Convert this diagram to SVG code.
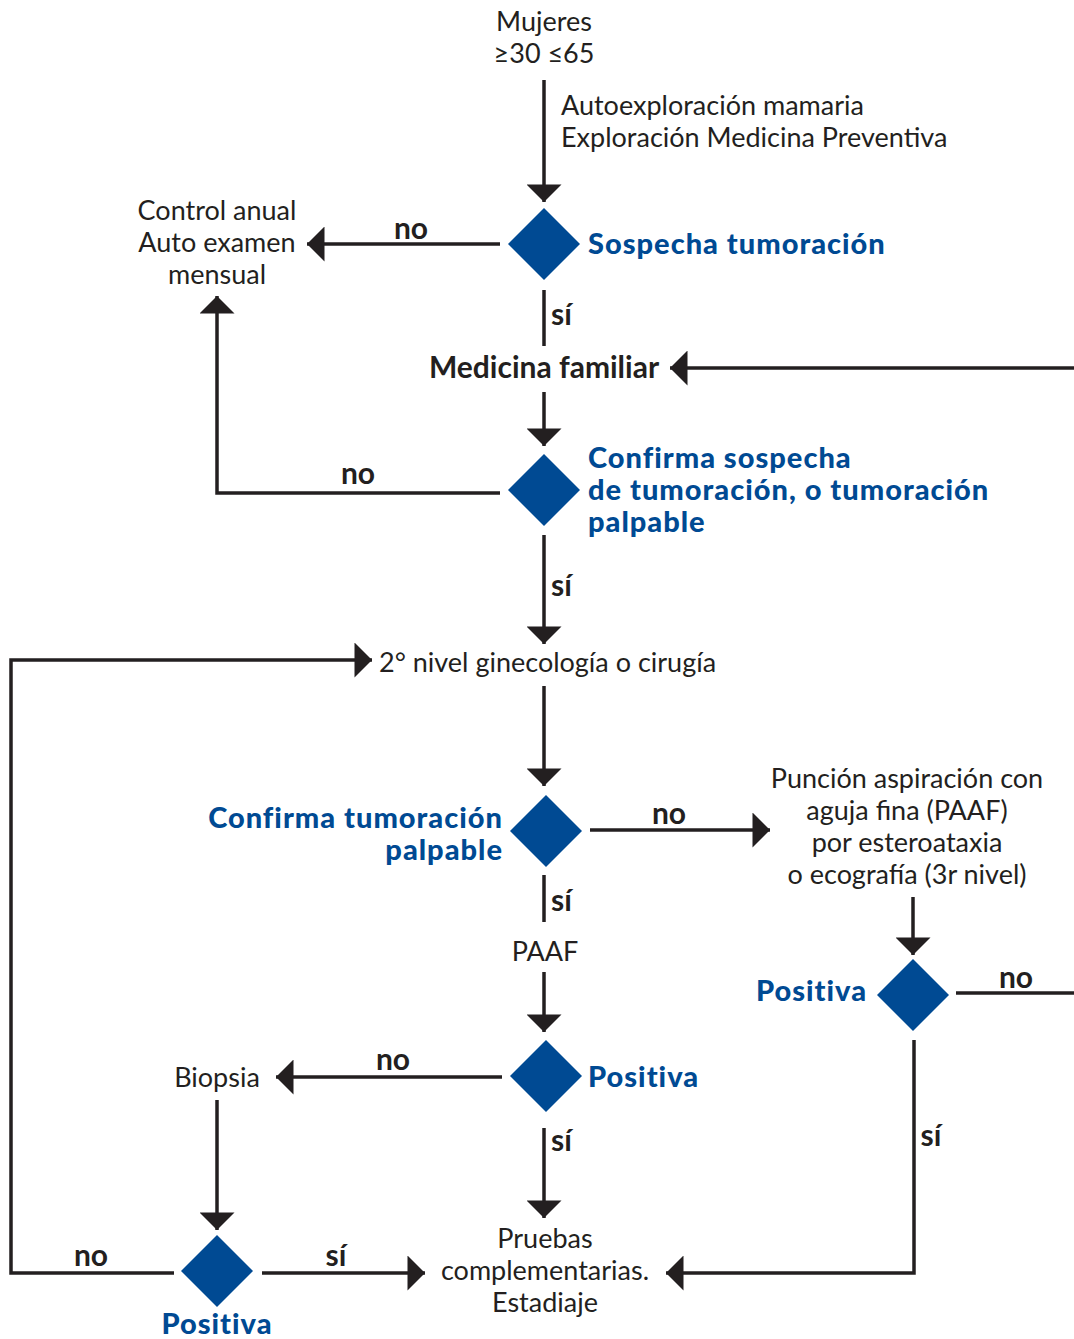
<svg xmlns="http://www.w3.org/2000/svg" width="1074" height="1339" viewBox="0 0 1074 1339">
<style>
.t{font-family:"Lato","Open Sans","Liberation Sans",sans-serif;font-size:27px;fill:#231f20}
.b{font-family:"Lato","Open Sans","Liberation Sans",sans-serif;font-size:30px;font-weight:bold;fill:#231f20}
.q{font-family:"Lato","Open Sans","Liberation Sans",sans-serif;font-size:29px;font-weight:900;letter-spacing:1px;fill:#004a93}
.c{text-anchor:middle}
.e{text-anchor:end}
.d{fill:#004a93}
.l{fill:none;stroke:#231f20;stroke-width:3.5}
</style>
<defs>
<marker id="ah" viewBox="0 0 10 20" refX="10" refY="10" markerWidth="5.2" markerHeight="10" markerUnits="strokeWidth" orient="auto">
<path d="M0,0 L10,10 L0,20 Z" fill="#231f20"/>
</marker>
</defs>
<g id="connectors">
<line class="l" x1="544" y1="80" x2="544" y2="202" marker-end="url(#ah)"/>
<line class="l" x1="500" y1="244" x2="307" y2="244" marker-end="url(#ah)"/>
<line class="l" x1="544" y1="290" x2="544" y2="346"/>
<line class="l" x1="1074" y1="368" x2="670" y2="368" marker-end="url(#ah)"/>
<line class="l" x1="544" y1="392" x2="544" y2="446" marker-end="url(#ah)"/>
<polyline class="l" points="500,493 217,493 217,296" marker-end="url(#ah)"/>
<line class="l" x1="544" y1="535" x2="544" y2="644" marker-end="url(#ah)"/>
<polyline class="l" points="174,1273 11,1273 11,660 372,660" marker-end="url(#ah)"/>
<line class="l" x1="544" y1="686" x2="544" y2="786" marker-end="url(#ah)"/>
<line class="l" x1="590" y1="830" x2="770" y2="830" marker-end="url(#ah)"/>
<line class="l" x1="544" y1="875" x2="544" y2="922"/>
<line class="l" x1="544" y1="972" x2="544" y2="1032" marker-end="url(#ah)"/>
<line class="l" x1="502" y1="1077" x2="276" y2="1077" marker-end="url(#ah)"/>
<line class="l" x1="544" y1="1128" x2="544" y2="1218" marker-end="url(#ah)"/>
<line class="l" x1="217" y1="1100" x2="217" y2="1230" marker-end="url(#ah)"/>
<line class="l" x1="262" y1="1273" x2="425" y2="1273" marker-end="url(#ah)"/>
<line class="l" x1="913" y1="897" x2="913" y2="955" marker-end="url(#ah)"/>
<line class="l" x1="956" y1="993" x2="1074" y2="993"/>
<polyline class="l" points="914,1040 914,1273 666,1273" marker-end="url(#ah)"/>
<text class="b c" x="411" y="239">no</text>
<text class="b" x="551" y="325">sí</text>
<text class="b c" x="358" y="484">no</text>
<text class="b" x="551" y="596">sí</text>
<text class="b c" x="669" y="824">no</text>
<text class="b" x="551" y="911">sí</text>
<text class="b c" x="393" y="1070">no</text>
<text class="b" x="551" y="1151">sí</text>
<text class="b c" x="91" y="1266">no</text>
<text class="b c" x="336" y="1266">sí</text>
<text class="b c" x="1016" y="988">no</text>
<text class="b c" x="931" y="1146">sí</text>
</g>
<g id="start">
<text class="t c" x="544" y="31">Mujeres</text>
<text class="t c" x="544" y="63">≥30 ≤65</text>
</g>
<g id="exploracion">
<text class="t" x="561" y="115">Autoexploración mamaria</text>
<text class="t" x="561" y="147">Exploración Medicina Preventiva</text>
</g>
<g id="sospecha">
<path class="d" d="M544,208 L580,244 L544,280 L508,244 Z"/>
<text class="q" x="588" y="254">Sospecha tumoración</text>
</g>
<g id="control">
<text class="t c" x="217" y="220">Control anual</text>
<text class="t c" x="217" y="252">Auto examen</text>
<text class="t c" x="217" y="284">mensual</text>
</g>
<g id="medicina">
<text class="b c" x="544" y="378">Medicina familiar</text>
</g>
<g id="confirma-sospecha">
<path class="d" d="M544,454 L580,490 L544,526 L508,490 Z"/>
<text class="q" x="588" y="468">Confirma sospecha</text>
<text class="q" x="588" y="500">de tumoración, o tumoración</text>
<text class="q" x="588" y="532">palpable</text>
</g>
<g id="segundo-nivel">
<text class="t" x="379" y="672">2° nivel ginecología o cirugía</text>
</g>
<g id="confirma-tumoracion">
<path class="d" d="M546,795 L582,831 L546,867 L510,831 Z"/>
<text class="q e" x="503" y="828">Confirma tumoración</text>
<text class="q e" x="503" y="860">palpable</text>
</g>
<g id="puncion">
<text class="t c" x="907" y="788">Punción aspiración con</text>
<text class="t c" x="907" y="820">aguja fina (PAAF)</text>
<text class="t c" x="907" y="852">por esteroataxia</text>
<text class="t c" x="907" y="884">o ecografía (3r nivel)</text>
</g>
<g id="paaf">
<text class="t c" x="545" y="961">PAAF</text>
</g>
<g id="positiva-centro">
<path class="d" d="M546,1040 L582,1076 L546,1112 L510,1076 Z"/>
<text class="q" x="588" y="1087">Positiva</text>
</g>
<g id="positiva-derecha">
<path class="d" d="M913,959 L949,995 L913,1031 L877,995 Z"/>
<text class="q e" x="867" y="1001">Positiva</text>
</g>
<g id="biopsia">
<text class="t c" x="217" y="1087">Biopsia</text>
</g>
<g id="positiva-biopsia">
<path class="d" d="M217,1235 L253,1271 L217,1307 L181,1271 Z"/>
<text class="q c" x="217" y="1334">Positiva</text>
</g>
<g id="pruebas">
<text class="t c" x="545" y="1248">Pruebas</text>
<text class="t c" x="545" y="1280">complementarias.</text>
<text class="t c" x="545" y="1312">Estadiaje</text>
</g>
</svg>
